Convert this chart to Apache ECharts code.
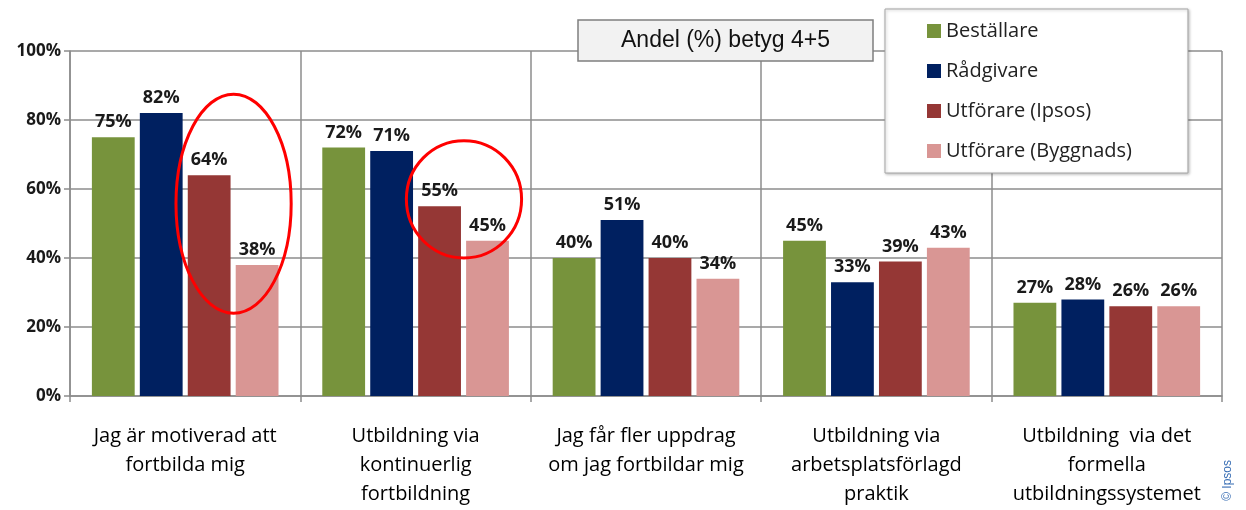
<!DOCTYPE html>
<html>
  <head>
    <title>Andel (%) betyg 4+5</title>
    <meta charset='utf-8' />
    <style>
      body { margin: 0; background: #fff; }
    </style>
  </head>
  <body>
    <div id="content" style="width: 1246px; height: 510px;"></div>

    <script src="https://cdn.jsdelivr.net/npm/echarts@6/dist/echarts.min.js"></script>
    <script type="text/javascript">
      // Categories and values (share with grade 4+5, in %)
      var categories = [
        'Jag är motiverad att\nfortbilda mig',
        'Utbildning via\nkontinuerlig\nfortbildning',
        'Jag får fler uppdrag\nom jag fortbildar mig',
        'Utbildning via\narbetsplatsförlagd\npraktik',
        'Utbildning  via det\nformella\nutbildningssystemet'
      ];
      var seriesNames = ['Beställare', 'Rådgivare', 'Utförare (Ipsos)', 'Utförare (Byggnads)'];
      var bestallare = [75, 72, 40, 45, 27];
      var radgivare = [82, 71, 51, 33, 28];
      var utforareIpsos = [64, 55, 40, 39, 26];
      var utforareByggnads = [38, 45, 34, 43, 26];
      var colors = ['#77933c', '#002060', '#953735', '#d99694'];

      var labelFont = '"Open Sans", "Noto Sans", sans-serif';

      function makeSeries(name, data, color) {
        return {
          name: name,
          type: 'bar',
          data: data,
          barGap: '12%',
          barCategoryGap: '19%',
          itemStyle: { color: color },
          label: {
            show: true,
            position: 'top',
            distance: 6,
            formatter: '{c}%',
            fontFamily: labelFont,
            fontSize: 18,
            fontWeight: 'bold',
            color: '#1a1a1a'
          }
        };
      }

      var myChart = echarts.init(document.getElementById('content'));
      var options = {
        animation: false,
        color: colors,
        title: {
          text: 'Andel (%) betyg 4+5',
          left: 578,
          top: 20,
          padding: [9, 43, 9, 43],
          backgroundColor: '#f2f2f2',
          borderColor: '#7f7f7f',
          borderWidth: 1.5,
          textStyle: {
            fontFamily: '"Liberation Sans", Arial, sans-serif',
            fontSize: 23,
            fontWeight: 'normal',
            color: '#111'
          }
        },
        legend: {
          orient: 'vertical',
          left: 885,
          top: 9,
          data: seriesNames,
          itemWidth: 14,
          itemHeight: 14,
          itemGap: 20,
          icon: 'rect',
          padding: [12, 56, 12, 42],
          backgroundColor: '#fff',
          borderColor: '#a6a6a6',
          borderWidth: 1,
          shadowColor: 'rgba(0,0,0,0.25)',
          shadowBlur: 3,
          shadowOffsetX: 1,
          shadowOffsetY: 1,
          textStyle: {
            fontFamily: labelFont,
            fontSize: 20,
            color: '#222'
          }
        },
        grid: {
          left: 70,
          right: 24,
          top: 51,
          bottom: 114,
          containLabel: false
        },
        xAxis: {
          type: 'category',
          data: categories,
          axisLine: { lineStyle: { color: '#8c8c8c', width: 1.5 } },
          axisTick: { show: true, length: 6, lineStyle: { color: '#8c8c8c', width: 1.5 } },
          splitLine: { show: true, lineStyle: { color: '#8c8c8c', width: 1.5 } },
          axisLabel: {
            margin: 26,
            interval: 0,
            fontFamily: labelFont,
            fontSize: 20,
            lineHeight: 29,
            color: '#000'
          }
        },
        yAxis: {
          type: 'value',
          min: 0,
          max: 100,
          interval: 20,
          axisLine: { show: true, lineStyle: { color: '#8c8c8c', width: 1.5 } },
          axisTick: { show: true, length: 6, lineStyle: { color: '#8c8c8c', width: 1.5 } },
          splitLine: { show: true, lineStyle: { color: '#8c8c8c', width: 1.5 } },
          axisLabel: {
            formatter: '{value}%',
            margin: 9,
            fontFamily: labelFont,
            fontSize: 17,
            fontWeight: 'bold',
            color: '#1a1a1a'
          }
        },
        series: [
          makeSeries(seriesNames[0], bestallare, colors[0]),
          makeSeries(seriesNames[1], radgivare, colors[1]),
          makeSeries(seriesNames[2], utforareIpsos, colors[2]),
          makeSeries(seriesNames[3], utforareByggnads, colors[3])
        ]
      };
      myChart.setOption(options);

      // Red highlight rings around the two Utförare pairs, placed from the axes
      function ringAround(catIndex, yTop, yBottom) {
        var top = myChart.convertToPixel({ gridIndex: 0 }, [catIndex, yTop]);
        var bottom = myChart.convertToPixel({ gridIndex: 0 }, [catIndex, yBottom]);
        var half = (myChart.convertToPixel({ gridIndex: 0 }, [1, 0])[0] -
                    myChart.convertToPixel({ gridIndex: 0 }, [0, 0])[0]) / 2;
        // the Utförare pair sits in the right half of the category
        return {
          type: 'ellipse',
          shape: {
            cx: top[0] + half * 0.42,
            cy: (top[1] + bottom[1]) / 2,
            rx: half * 0.5,
            ry: (bottom[1] - top[1]) / 2
          },
          style: { fill: 'none', stroke: '#ff0000', lineWidth: 3 },
          z: 100
        };
      }

      myChart.setOption({
        graphic: [
          ringAround(0, 87.5, 24),
          ringAround(1, 74, 40),
          {
            type: 'text',
            left: 1222,
            top: 460,
            rotation: Math.PI / 2,
            style: {
              text: '© Ipsos',
              fontFamily: '"Liberation Sans", Arial, sans-serif',
              fontSize: 12,
              fill: '#3a6fb5'
            }
          }
        ]
      });
    </script>
  </body>
</html>
